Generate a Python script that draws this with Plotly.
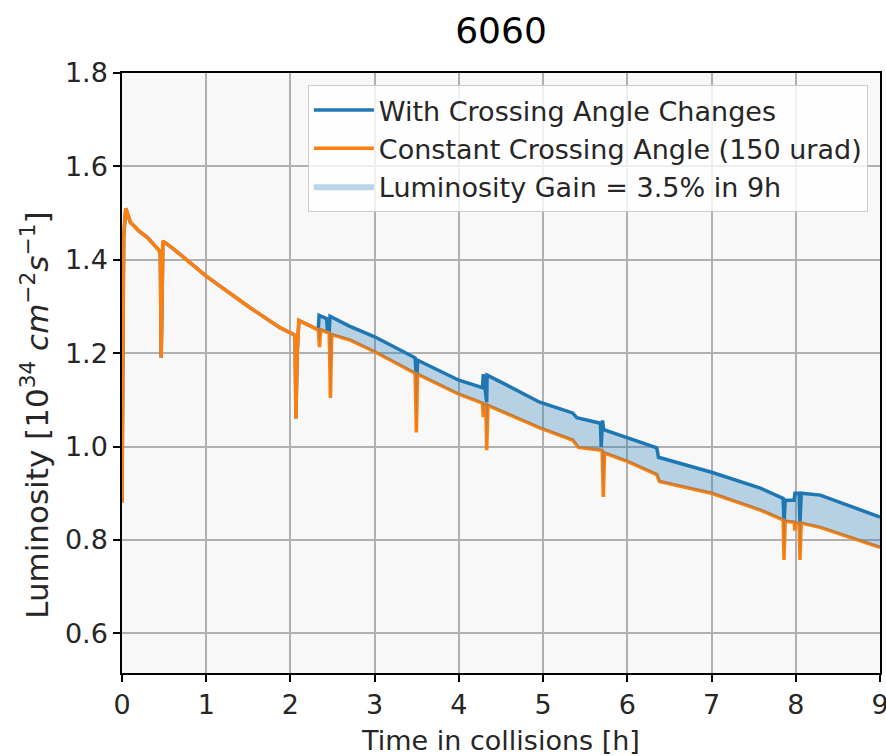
import plotly.graph_objects as go

# Shared part (before the first crossing-angle change, both curves coincide)
common_t = [0.0, 0.02, 0.045, 0.07, 0.10, 0.13, 0.20, 0.30, 0.44, 0.455, 0.465, 0.475, 0.485,
            0.60, 1.00, 1.50, 1.88, 2.04, 2.055, 2.065, 2.08, 2.10, 2.33]
common_L = [0.88, 1.45, 1.51, 1.495, 1.48, 1.475, 1.462, 1.448, 1.42, 1.41, 1.19, 1.30, 1.44,
            1.425, 1.365, 1.30, 1.254, 1.24, 1.235, 1.06, 1.20, 1.27, 1.25]

# Constant crossing angle (150 urad) after t = 2.33 h
const_t = [2.345, 2.36, 2.46, 2.475, 2.49, 2.71, 3.00, 3.48, 3.495, 3.51, 4.00, 4.28, 4.29, 4.30,
           4.32, 4.33, 4.345, 4.60, 4.96, 5.35, 5.42, 5.70, 5.715, 5.73, 6.00, 6.35, 6.38,
           7.00, 7.58, 7.85, 7.86, 7.875, 7.98, 7.99, 8.00, 8.04, 8.05, 8.065, 8.29, 9.00]
const_L = [1.213, 1.25, 1.243, 1.104, 1.24, 1.228, 1.203, 1.157, 1.03, 1.155, 1.112, 1.093, 1.063, 1.09,
           1.09, 0.992, 1.088, 1.068, 1.04, 1.014, 0.998, 0.992, 0.892, 0.986, 0.968, 0.94, 0.925,
           0.90, 0.864, 0.843, 0.757, 0.84, 0.838, 0.82, 0.836, 0.835, 0.757, 0.836, 0.827, 0.784]

# With crossing angle changes after t = 2.33 h
change_t = [2.34, 2.43, 2.44, 2.46, 2.47, 2.70, 3.00, 3.48, 3.49, 3.505, 3.51, 4.00, 4.28, 4.29,
            4.33, 4.335, 4.50, 4.96, 5.35, 5.40, 5.68, 5.69, 5.705, 5.72, 6.35, 6.37, 7.00,
            7.58, 7.85, 7.86, 7.875, 7.98, 7.99, 8.04, 8.05, 8.065, 8.29, 9.00]
change_L = [1.281, 1.274, 1.245, 1.245, 1.279, 1.258, 1.235, 1.19, 1.16, 1.16, 1.185, 1.142, 1.126, 1.155,
            1.095, 1.153, 1.138, 1.095, 1.072, 1.062, 1.05, 0.999, 1.056, 1.036, 0.997, 0.977, 0.945,
            0.911, 0.889, 0.836, 0.885, 0.885, 0.90, 0.90, 0.836, 0.90, 0.896, 0.849]

x_ticks = [0, 1, 2, 3, 4, 5, 6, 7, 8, 9]
y_ticks = [0.6, 0.8, 1.0, 1.2, 1.4, 1.6, 1.8]

BLUE = "#1f77b4"
ORANGE = "#ff7f0e"
FONT = "DejaVu Sans"
TXT = "#262626"

t_blue = common_t + change_t
L_blue = common_L + change_L
t_orange = common_t + const_t
L_orange = common_L + const_L

# polygon between the two curves (from where they diverge)
fill_x = [common_t[-1]] + change_t + const_t[::-1] + [common_t[-1]]
fill_y = [common_L[-1]] + change_L + const_L[::-1] + [common_L[-1]]

fig = go.Figure()
fig.add_trace(go.Scatter(x=t_blue, y=L_blue, mode="lines", name="With Crossing Angle Changes",
                         line=dict(color=BLUE, width=3.5)))
fig.add_trace(go.Scatter(x=t_orange, y=L_orange, mode="lines", name="Constant Crossing Angle (150 urad)",
                         line=dict(color=ORANGE, width=3.5)))
fig.add_trace(go.Scatter(x=fill_x, y=fill_y, mode="lines", fill="toself",
                         fillcolor="rgba(31,119,180,0.3)", line=dict(width=0, color="rgba(0,0,0,0)"),
                         name="Luminosity Gain = 3.5% in 9h"))

axis_common = dict(
    showline=True, linecolor="black", linewidth=1.5, mirror=True,
    showgrid=True, gridcolor="#b0b0b0", gridwidth=1.5,
    ticks="outside", ticklen=7, tickwidth=1.5, tickcolor="black",
    tickfont=dict(family=FONT, size=27, color=TXT),
    zeroline=False, automargin=False,
)

fig.update_layout(
    width=886, height=756,
    margin=dict(l=122, r=6, t=73, b=83),
    paper_bgcolor="white", plot_bgcolor="#f8f8f8",
    font=dict(family=FONT, color=TXT),
    title=dict(text="6060", font=dict(family=FONT, size=36, color="black"),
               x=0.5, xref="paper", y=1 - 30 / 756, yref="container", yanchor="middle"),
    xaxis=dict(range=[0, 9], tickvals=x_ticks, ticklabeloverflow="allow",
               title=dict(text="Time in collisions [h]", font=dict(family=FONT, size=27, color=TXT),
                          standoff=14),
               **axis_common),
    yaxis=dict(range=[0.515, 1.8], tickvals=y_ticks, tickformat=".1f",
               **axis_common),
    legend=dict(x=0.984, y=0.98, xanchor="right", yanchor="top",
                bgcolor="rgba(255,255,255,0.8)", bordercolor="#cccccc", borderwidth=1,
                font=dict(family=FONT, size=27, color=TXT),
                tracegroupgap=0, itemwidth=60),
    showlegend=True,
    annotations=[dict(
        text="Luminosity [10<sup>34</sup> <i>cm</i><sup>−2</sup><i>s</i><sup>−1</sup>]",
        textangle=-90, xref="paper", yref="paper", x=-0.115, y=0.43,
        xanchor="center", yanchor="middle", showarrow=False,
        font=dict(family=FONT, size=31, color=TXT),
    )],
)

fig.write_html("out.html")
